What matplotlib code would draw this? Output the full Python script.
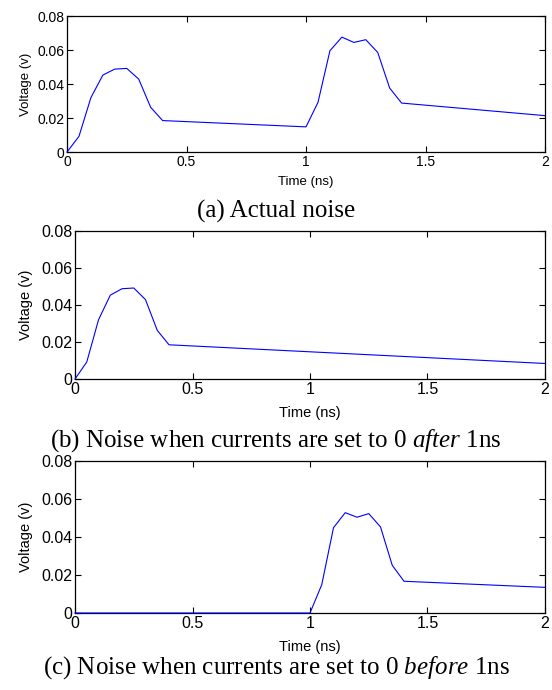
import matplotlib
matplotlib.use("Agg")
import matplotlib.pyplot as plt

# sample times (ns)
t_full = [0, 0.05, 0.1, 0.15, 0.2, 0.25, 0.3, 0.35, 0.4,
          1.0, 1.05, 1.1, 1.15, 1.2, 1.25, 1.3, 1.35, 1.4, 2.0]
v_actual = [0, 0.0092, 0.032, 0.0453, 0.0488, 0.0492, 0.0429, 0.0263, 0.0185,
            0.0148, 0.0292, 0.0596, 0.0676, 0.0645, 0.0661, 0.0586, 0.0376, 0.0288, 0.0214]

t_after = [0, 0.05, 0.1, 0.15, 0.2, 0.25, 0.3, 0.35, 0.4, 2.0]
v_after = [0, 0.0092, 0.032, 0.0453, 0.0488, 0.0492, 0.0429, 0.0263, 0.0185, 0.0084]

t_before = [0, 1.0, 1.05, 1.1, 1.15, 1.2, 1.25, 1.3, 1.35, 1.4, 2.0]
v_before = [0, 0, 0.0149, 0.0449, 0.0528, 0.0504, 0.0523, 0.0453, 0.0251, 0.0167, 0.0135]

xticks = [0, 0.5, 1, 1.5, 2]
xticklabels = ["0", "0.5", "1", "1.5", "2"]
yticks = [0, 0.02, 0.04, 0.06, 0.08]
yticklabels = ["0", "0.02", "0.04", "0.06", "0.08"]

captions = ["(a) Actual noise",
            "(b) Noise when currents are set to 0 $\\it{after}$ 1ns",
            "(c) Noise when currents are set to 0 $\\it{before}$ 1ns"]

plt.rcParams['font.family'] = ['Liberation Sans', 'DejaVu Sans']
plt.rcParams['mathtext.fontset'] = 'custom'
plt.rcParams['mathtext.it'] = 'Liberation Serif:italic'
plt.rcParams['mathtext.rm'] = 'Liberation Serif'

fig = plt.figure(figsize=(5.52, 6.9), dpi=100)

boxes = [[0.1214, 0.7797, 0.866, 0.197],
         [0.1359, 0.4507, 0.8514, 0.2145],
         [0.1359, 0.1116, 0.8514, 0.2203]]
series = [(t_full, v_actual), (t_after, v_after), (t_before, v_before)]
tick_sizes = [10, 11.5, 11.5]
label_sizes = [9.5, 10.5, 10.5]
xpads = [5, 6.5, 6.5]
ypads = [4, 6, 6]
cap_y = [0.693, 0.362, 0.033]

for i in range(3):
    ax = fig.add_axes(boxes[i])
    x, y = series[i]
    ax.plot(x, y, color=(0, 0, 1), lw=0.8, clip_on=False, zorder=5)
    ax.set_xlim(0, 2)
    ax.set_ylim(0, 0.08)
    ax.set_xticks(xticks)
    ax.set_xticklabels(xticklabels)
    ax.set_yticks(yticks)
    ax.set_yticklabels(yticklabels)
    ax.tick_params(direction='in', top=True, right=True, length=4, width=0.8,
                   labelsize=tick_sizes[i], pad=2)
    for s in ax.spines.values():
        s.set_linewidth(0.9)
    ax.set_xlabel("Time (ns)", fontsize=label_sizes[i], labelpad=xpads[i])
    ax.set_ylabel("Voltage (v)", fontsize=label_sizes[i], labelpad=ypads[i])
    fig.text(0.5, cap_y[i], captions[i], ha='center', va='center',
             fontsize=18, family='Liberation Serif')

plt.savefig('out.png', dpi=100)
